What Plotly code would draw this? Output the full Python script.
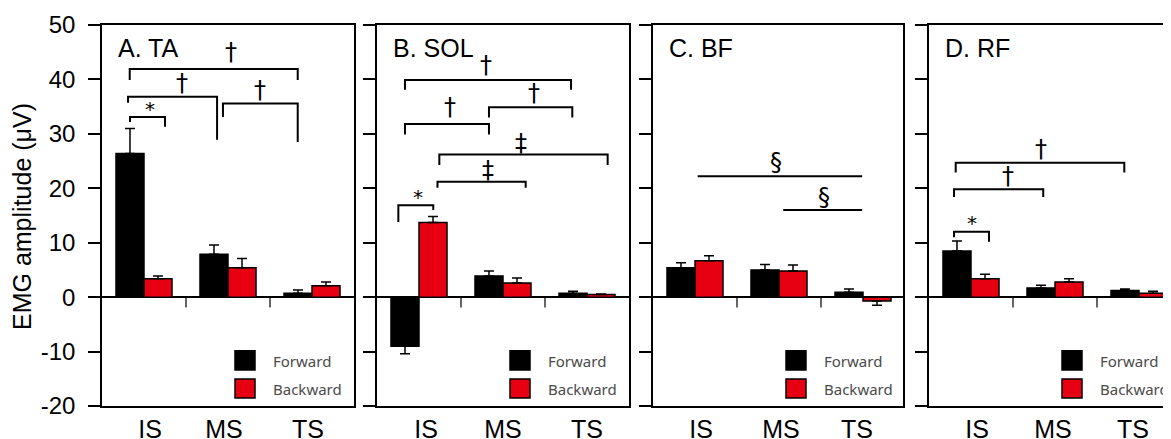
import plotly.graph_objects as go

# ---------------- data ----------------
categories = ["IS", "MS", "TS"]
panel_titles = ["A. TA", "B. SOL", "C. BF", "D. RF"]

ta_forward = [26.4, 7.9, 0.7]
ta_forward_err = [4.6, 1.7, 0.6]
ta_backward = [3.4, 5.4, 2.1]
ta_backward_err = [0.5, 1.7, 0.7]

sol_forward = [-9.0, 3.9, 0.7]
sol_forward_err = [1.4, 0.9, 0.4]
sol_backward = [13.7, 2.6, 0.5]
sol_backward_err = [1.1, 0.9, 0.1]

bf_forward = [5.4, 5.0, 0.9]
bf_forward_err = [0.9, 1.0, 0.6]
bf_backward = [6.7, 4.8, -0.7]
bf_backward_err = [0.9, 1.1, 0.8]

rf_forward = [8.5, 1.7, 1.2]
rf_forward_err = [1.8, 0.5, 0.3]
rf_backward = [3.4, 2.8, 0.7]
rf_backward_err = [0.8, 0.6, 0.4]

y_ticks = [-20, -10, 0, 10, 20, 30, 40, 50]
y_tick_labels = ["-20", "-10", "0", "10", "20", "30", "40", "50"]

# significance markers: (x_left, x_right, y_bar, leg_left_bottom, leg_right_bottom, symbol, sym_x, sym_y)
ta_sig = [
    (-0.167, 0.25, 33.1, 32.2, 31.3, "*", 0.07, 34.6),
    (-0.19, 0.87, 36.8, 35.7, 28.9, "†", 0.45, 39.4),
    (0.94, 1.83, 35.6, 33.1, 28.5, "†", 1.38, 38.1),
    (-0.17, 1.83, 41.9, 39.9, 39.9, "†", 1.04, 45.0),
]
sol_sig = [
    (-0.246, 0.17, 16.9, 13.8, 16.0, "*", -0.015, 18.4),
    (0.22, 1.27, 21.2, 20.1, 20.1, "‡", 0.825, 23.4),
    (0.242, 2.246, 26.2, 24.3, 24.3, "‡", 1.22, 28.4),
    (-0.167, 0.833, 31.8, 29.9, 29.9, "†", 0.37, 34.9),
    (0.833, 1.825, 34.9, 33.0, 33.0, "†", 1.37, 37.5),
    (-0.167, 1.81, 39.9, 38.1, 38.1, "†", 0.80, 42.6),
]
bf_sig = [
    (0.032, 1.99, 22.2, 22.2, 22.2, "§", 0.96, 24.8),
    (1.05, 1.99, 16.0, 16.0, 16.0, "§", 1.53, 18.4),
]
rf_sig = [
    (-0.202, 0.214, 12.0, 11.0, 10.2, "*", 0.016, 13.7),
    (-0.202, 0.86, 19.8, 18.4, 18.4, "†", 0.444, 22.2),
    (-0.182, 1.825, 24.7, 22.9, 22.9, "†", 0.833, 27.3),
]

panels = [
    (ta_forward, ta_forward_err, ta_backward, ta_backward_err, ta_sig),
    (sol_forward, sol_forward_err, sol_backward, sol_backward_err, sol_sig),
    (bf_forward, bf_forward_err, bf_backward, bf_backward_err, bf_sig),
    (rf_forward, rf_forward_err, rf_backward, rf_backward_err, rf_sig),
]

# ---------------- layout geometry (pixels, page coords; page body has an 8px margin) ----------------
OFF = 8
W, H = 1171 - OFF, 439 - OFF
panel_px = [(102, 354), (377, 629), (653, 903), (929, 1171)]
label_shift_px = [(6, -4, -4), (7, 0, 0), (6, 2, -6), (6, -2, -6)]
top_px, bot_px = 25, 406
cat_px = 84.0

FONT = "Liberation Sans, Arial, sans-serif"
RED = "#e60012"

fig = go.Figure()


def up_err(vals, errs):
    return [e if v >= 0 else 0 for v, e in zip(vals, errs)]


def down_err(vals, errs):
    return [e if v < 0 else 0 for v, e in zip(vals, errs)]


xpos = list(range(len(categories)))
shapes = []
annotations = []
hpx = bot_px - top_px

for i, (fw, fwe, bw, bwe, sig) in enumerate(panels):
    n = "" if i == 0 else str(i + 1)
    xa, ya = "x" + n, "y" + n
    for vals, errs, color, name in [(fw, fwe, "black", "Forward"), (bw, bwe, RED, "Backward")]:
        fig.add_trace(go.Bar(
            x=xpos, y=vals, name=name, marker=dict(color=color, line=dict(color="black", width=1.5)),
            error_y=dict(type="data", symmetric=False, array=up_err(vals, errs),
                         arrayminus=down_err(vals, errs), color="black", thickness=1.5, width=5),
            xaxis=xa, yaxis=ya, showlegend=False, hovertext=categories,
        ))
    x0p, x1p = panel_px[i]
    wpx = x1p - x0p
    xr = [-0.5, -0.5 + wpx / cat_px]
    fig.layout["xaxis" + n] = dict(
        domain=[(x0p - OFF) / W, min(1.0, (x1p - OFF) / W)], range=xr, anchor=ya,
        tickmode="array", tickvals=[p + s / cat_px for p, s in zip(xpos, label_shift_px[i])],
        ticktext=categories,
        showline=True, linecolor="black", linewidth=1.5, mirror=True,
        ticks="", showgrid=False, zeroline=False, automargin=False,
        tickfont=dict(family=FONT, size=25, color="black"), fixedrange=True,
    )
    fig.layout["yaxis" + n] = dict(
        domain=[1 - (bot_px - OFF) / H, 1 - (top_px - OFF) / H], range=[-20, 50], anchor=xa,
        showline=True, linecolor="black", linewidth=1.5, mirror=(i < 3),
        ticks="outside", ticklen=12, tickwidth=1.5, tickcolor="black",
        tickmode="array", tickvals=y_ticks, ticktext=y_tick_labels,
        showticklabels=(i == 0), ticklabelstandoff=8,
        tickfont=dict(family=FONT, size=24, color="black"),
        showgrid=False, zeroline=True, zerolinecolor="black", zerolinewidth=1.5,
        automargin=False, fixedrange=True,
    )
    # category separators on zero line
    for xs in (0.5, 1.5):
        shapes.append(dict(type="line", xref=xa, yref=ya, x0=xs, x1=xs, y0=0, y1=-1.9,
                           line=dict(color="black", width=1.2)))
    # brackets
    for (xl, xrr, yb, ll, lr, sym, sx, sy) in sig:
        shapes.append(dict(type="path", xref=xa, yref=ya,
                           path=f"M {xl},{ll} L {xl},{yb} L {xrr},{yb} L {xrr},{lr}",
                           line=dict(color="black", width=2)))
        annotations.append(dict(xref=xa, yref=ya, x=sx, y=sy, text=sym, showarrow=False,
                                font=dict(family="DejaVu Sans, sans-serif", size=20 if sym == "*" else 24, color="black"),
                                xanchor="center", yanchor="middle"))
    # panel title
    annotations.append(dict(xref=xa + " domain", yref=ya + " domain", x=14 / wpx, y=(bot_px - 48) / hpx,
                            text=panel_titles[i], showarrow=False, xanchor="left", yanchor="middle",
                            font=dict(family=FONT, size=25, color="black")))
    # legend
    for (yt, yb2, col, lab, ytext) in [(350.7, 370, "black", "Forward", 361), (379, 398, RED, "Backward", 389)]:
        shapes.append(dict(type="rect", xref=xa + " domain", yref=ya + " domain",
                           x0=133 / wpx, x1=153 / wpx, y0=(bot_px - yb2) / hpx, y1=(bot_px - yt) / hpx,
                           fillcolor=col, line=dict(color="black", width=1.5)))
        annotations.append(dict(xref=xa + " domain", yref=ya + " domain", x=169 / wpx, y=(bot_px - ytext) / hpx,
                                text=lab, showarrow=False, xanchor="left", yanchor="middle",
                                font=dict(family="Noto Sans, Open Sans, sans-serif", size=15, color="#4a4a4a")))

# y-axis title
annotations.append(dict(xref="paper", yref="paper", x=(22 - OFF) / W, y=1 - (217 - OFF) / H, text="EMG amplitude (μV)",
                        textangle=-90, showarrow=False, xanchor="center", yanchor="middle",
                        font=dict(family=FONT, size=25, color="black")))

fig.update_layout(
    width=W, height=H, margin=dict(l=0, r=0, t=0, b=0),
    paper_bgcolor="white", plot_bgcolor="white",
    barmode="group", bargap=0.333, bargroupgap=0,
    shapes=shapes, annotations=annotations, showlegend=False,
)

fig.write_html("out.html")
